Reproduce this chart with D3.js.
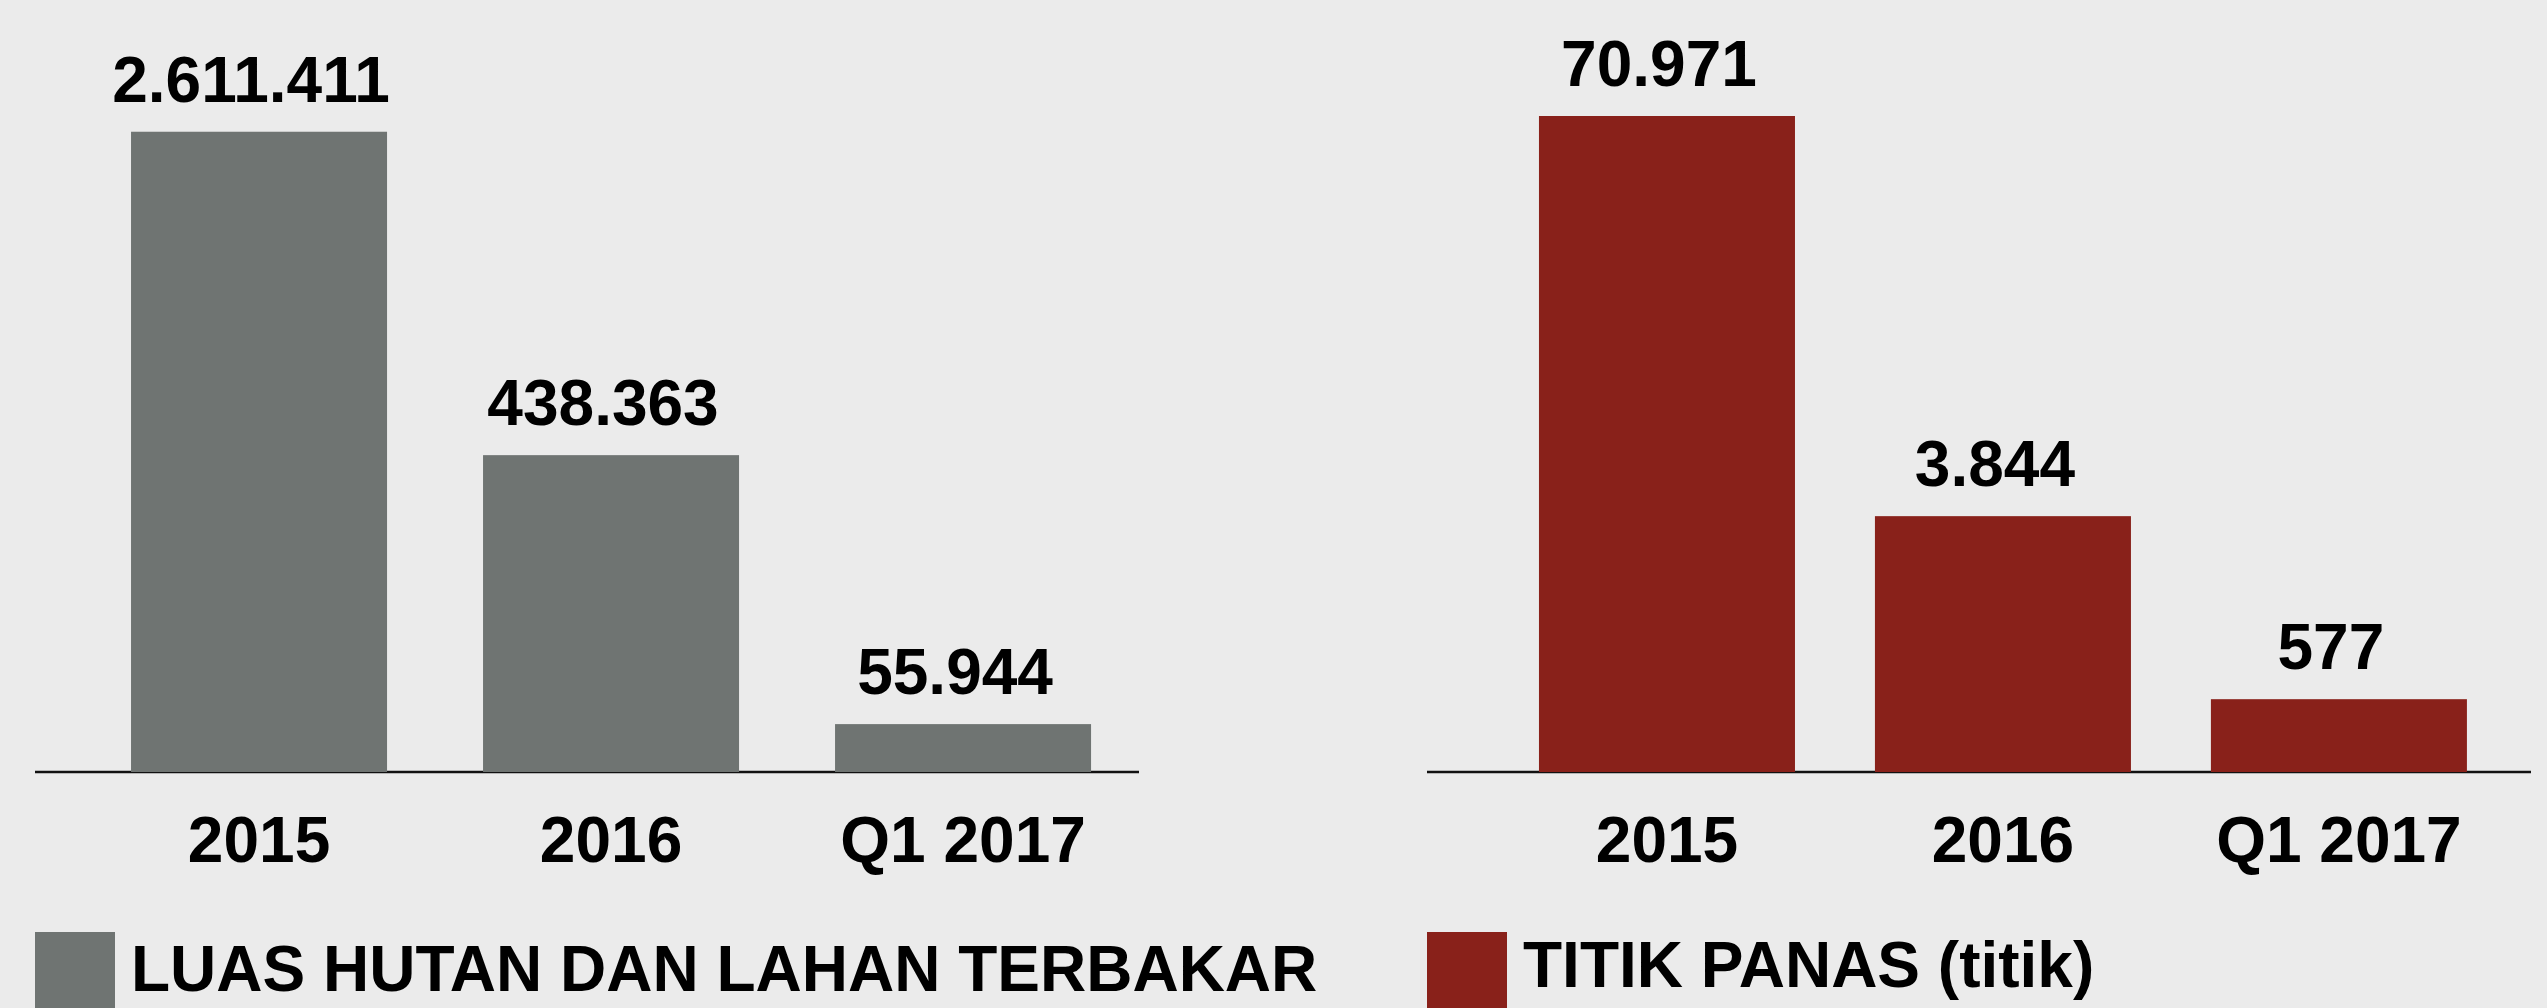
<!DOCTYPE html>
<html>
<head>
<meta charset="utf-8">
<script src="https://cdn.jsdelivr.net/npm/d3@7/dist/d3.min.js"></script>
<style>
  html, body { margin: 0; padding: 0; background: #ebebeb; overflow: hidden; }
  text { font-family: "Liberation Sans", Arial, sans-serif; font-weight: bold; fill: #000; }
</style>
</head>
<body>
<script>
// periods shared by both panels
const periods = ['2015', '2016', 'Q1 2017'];

// luas hutan dan lahan terbakar (ha)
const burnedArea = [2611411, 438363, 55944];

// titik panas (jumlah titik)
const hotspots = [70971, 3844, 577];

const legendNames = ['LUAS HUTAN DAN LAHAN TERBAKAR', 'TITIK PANAS (titik)'];

// indonesian number format: 2.611.411
const idFormat = d3.formatLocale({ decimal: ',', thousands: '.', grouping: [3], currency: ['Rp', ''] }).format(',d');

const width = 2547,
  height = 1008,
  baseY = 772,   // axis line
  topY = 116;    // tallest bar

const svg = d3.select('body').append('svg')
  .attr('width', width)
  .attr('height', height);

svg.append('rect')
  .attr('width', width)
  .attr('height', height)
  .attr('fill', '#ebebeb');

// the infographic does not draw bars to scale, so the y scale is piecewise:
// each value gets the share of the plot height the original gave it
const panels = [
  { values: burnedArea, name: legendNames[0], color: '#6f7472',
    x0: 35, x1: 1139, padIn: 0.2727, padOut: 0.2045, align: 0.667,
    levels: [0, 0.073, 0.483, 0.976], legendY: 991 },
  { values: hotspots, name: legendNames[1], color: '#89211a',
    x0: 1427, x1: 2531, padIn: 0.238, padOut: 0.262, align: 0.636,
    levels: [0, 0.111, 0.39, 1], legendY: 987 }
];

panels.forEach(function(p) {
  let g = svg.append('g');

  let x = d3.scaleBand()
    .domain(periods)
    .range([p.x0, p.x1])
    .paddingInner(p.padIn)
    .paddingOuter(p.padOut)
    .align(p.align);

  let stops = [0].concat(p.values.slice().sort(d3.ascending));
  let y = d3.scaleLinear()
    .domain(stops)
    .range(p.levels.map(l => baseY - l * (baseY - topY)));

  let rows = periods.map((k, i) => ({ period: k, value: p.values[i] }));

  // baseline
  g.append('line')
    .attr('x1', p.x0)
    .attr('x2', p.x1)
    .attr('y1', baseY)
    .attr('y2', baseY)
    .attr('stroke', '#111')
    .attr('stroke-width', 2.5);

  g.selectAll('rect.bar')
    .data(rows)
    .enter()
    .append('rect')
    .attr('class', 'bar')
    .attr('x', d => x(d.period))
    .attr('width', x.bandwidth())
    .attr('y', d => y(d.value))
    .attr('height', d => baseY - y(d.value))
    .attr('fill', p.color);

  // value labels
  g.selectAll('text.value')
    .data(rows)
    .enter()
    .append('text')
    .attr('class', 'value')
    .attr('x', d => x(d.period) + x.bandwidth() / 2 - 8)
    .attr('y', d => y(d.value) - 30)
    .attr('text-anchor', 'middle')
    .style('font-size', '64px')
    .text(d => idFormat(d.value));

  // category labels
  g.selectAll('text.period')
    .data(rows)
    .enter()
    .append('text')
    .attr('class', 'period')
    .attr('x', d => x(d.period) + x.bandwidth() / 2)
    .attr('y', 862)
    .attr('text-anchor', 'middle')
    .style('font-size', '64px')
    .text(d => d.period);

  // legend
  g.append('rect')
    .attr('x', p.x0)
    .attr('y', 932)
    .attr('width', 80)
    .attr('height', 100)
    .attr('fill', p.color);

  g.append('text')
    .attr('x', p.x0 + 96)
    .attr('y', p.legendY)
    .style('font-size', '64px')
    .text(p.name);
});
</script>
</body>
</html>
